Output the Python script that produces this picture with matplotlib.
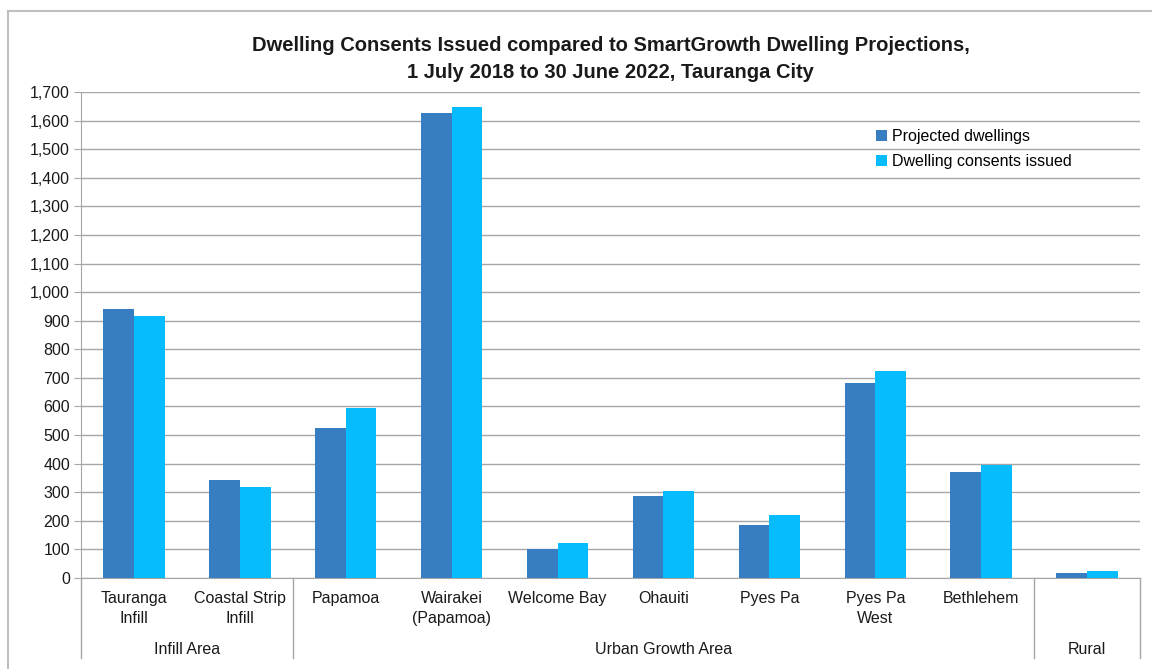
import matplotlib
matplotlib.use("Agg")
import matplotlib.pyplot as plt
from matplotlib.lines import Line2D
import numpy as np

plt.rcParams['font.family'] = ['Liberation Sans', 'DejaVu Sans']

categories = ["Tauranga\nInfill", "Coastal Strip\nInfill", "Papamoa", "Wairakei\n(Papamoa)",
              "Welcome Bay", "Ohauiti", "Pyes Pa", "Pyes Pa\nWest", "Bethlehem", ""]
groups = [("Infill Area", 0, 1), ("Urban Growth Area", 2, 8), ("Rural", 9, 9)]
projected = [941, 343, 525, 1628, 103, 288, 184, 681, 372, 18]
consents = [916, 320, 596, 1648, 123, 304, 220, 725, 396, 26]
series_names = ["Projected dwellings", "Dwelling consents issued"]
title = "Dwelling Consents Issued compared to SmartGrowth Dwelling Projections,\n1 July 2018 to 30 June 2022, Tauranga City"

c_proj = "#367EC1"
c_cons = "#06BCFD"
grid_c = "#A6A6A6"

W, H = 1152, 669
fig = plt.figure(figsize=(W / 100, H / 100), dpi=100)
ax = fig.add_axes([81 / W, 1 - 578 / H, (1140 - 81) / W, (578 - 92) / H])

# outer chart border (left and top visible)
fig.add_artist(Line2D([8 / W, 8 / W], [0, 1 - 11 / H], transform=fig.transFigure,
                      color="#BFBFBF", linewidth=1.5))
fig.add_artist(Line2D([8 / W, 1], [1 - 11 / H, 1 - 11 / H], transform=fig.transFigure,
                      color="#BFBFBF", linewidth=1.5))

x = np.arange(len(categories))
bw = 0.29
ax.bar(x - bw / 2, projected, bw, color=c_proj, label=series_names[0], zorder=3)
ax.bar(x + bw / 2, consents, bw, color=c_cons, label=series_names[1], zorder=3)

ax.set_xlim(-0.5, len(categories) - 0.5)
ax.set_ylim(0, 1700)
ax.set_yticks(np.arange(0, 1701, 100))
ax.set_yticklabels([f"{v:,}" for v in range(0, 1701, 100)], fontsize=11.5, color="#1a1a1a")
ax.yaxis.grid(True, color=grid_c, linewidth=1.0, zorder=0)
ax.set_axisbelow(True)
for s in ["top", "right"]:
    ax.spines[s].set_visible(False)
ax.spines["left"].set_color(grid_c)
ax.spines["bottom"].set_color(grid_c)
ax.tick_params(axis="y", length=5, color=grid_c, pad=3)
ax.set_xticks([])

# two-level category axis
trans = ax.get_xaxis_transform()
px = 1 / (578 - 92)  # one pixel in axes y units
for i, lab in enumerate(categories):
    ax.text(i, -13 * px, lab, transform=trans, ha="center", va="top", fontsize=11.5,
            color="#1a1a1a", linespacing=1.38)
for name, a, b in groups:
    ax.text((a + b) / 2, -71 * px, name, transform=trans, ha="center", va="center",
            fontsize=11.5, color="#1a1a1a")
for xb in [-0.5, 1.5, 8.5, 9.5]:
    ax.add_line(Line2D([xb, xb], [0, -80 * px], transform=trans, color=grid_c,
                       linewidth=1.0, clip_on=False))

ax.set_title(title, fontsize=14.5, fontweight="bold", pad=10, linespacing=1.53, color="#1a1a1a")

leg = ax.legend(loc="upper left", bbox_to_anchor=((876 - 81) / (1140 - 81), 1 - (129 - 92) / (578 - 92)),
                frameon=False, fontsize=11.5, handlelength=0.7, handleheight=0.7,
                handletextpad=0.3, labelspacing=0.62, borderpad=0, borderaxespad=0)

fig.savefig("out.png", dpi=100)
